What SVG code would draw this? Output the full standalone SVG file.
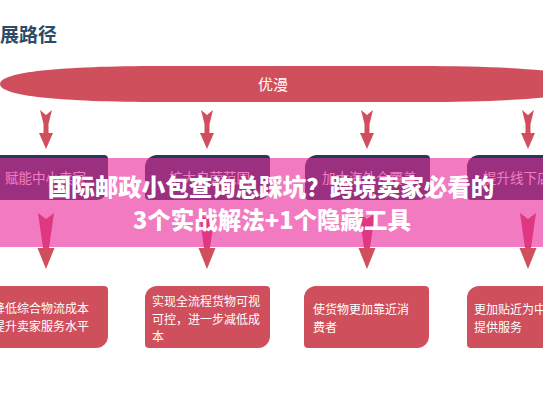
<svg xmlns="http://www.w3.org/2000/svg" xmlns:xlink="http://www.w3.org/1999/xlink" width="543" height="408" viewBox="0 0 543 408">
<style>
.cjk{font-family:"Noto Sans CJK SC","Noto Sans",sans-serif}
.head{font-size:19px;font-weight:700;fill:#2d4a66}
.band{fill:#d04f5c}
.bandtxt{font-size:15px;fill:#ffffff}
.arrow{fill:#d04f5c}
.mbox{fill:#1d3d58}
.mtxt{font-size:13.5px;fill:#ffffff}
.bbox{fill:#d04f5c}
.btxt{font-size:12px;fill:#ffffff}
.overlay{fill:#ea2899;fill-opacity:0.62}
.title{font-size:23.5px;font-weight:900;fill:#ffffff}
</style>
<defs>
<path id="mshape" d="M12,0 H121 A4,4 0 0 1 125,4 V33 A12,12 0 0 1 113,45 H4 A4,4 0 0 1 0,41 V12 A12,12 0 0 1 12,0 Z"/>
<path id="bshape" d="M12,0 H121 A4,4 0 0 1 125,4 V50 A12,12 0 0 1 113,62 H4 A4,4 0 0 1 0,58 V12 A12,12 0 0 1 12,0 Z"/>
<path id="arrowUp" d="M-6,0 L0,5 L6,0 L2.5,14 V23 H7 L0,39 L-7,23 H-2.5 V14 Z"/>
<path id="arrowLow" d="M-8,0 L0,6 L8,0 L3,35 H8.5 L0,56 L-8.5,35 H-3 Z"/>
</defs>
<rect width="543" height="408" fill="#ffffff"/>
<text class="cjk head" x="0" y="42">展路径</text>
<g id="band">
<path class="band" d="M0,84 C0,72 60,66 160,66 H420 C520,66 590,72 590,84 C590,96 520,102 420,102 H160 C60,102 0,96 0,84 Z"/>
<text class="cjk bandtxt" x="273" y="90" text-anchor="middle">优漫</text>
</g>
<g id="connectors">
<use xlink:href="#arrowUp" class="arrow" x="46" y="110"/>
<use xlink:href="#arrowUp" class="arrow" x="207" y="110"/>
<use xlink:href="#arrowUp" class="arrow" x="367" y="110"/>
<use xlink:href="#arrowUp" class="arrow" x="528" y="110"/>
<use xlink:href="#arrowLow" class="arrow" x="46" y="213"/>
<use xlink:href="#arrowLow" class="arrow" x="207" y="213"/>
<use xlink:href="#arrowLow" class="arrow" x="367" y="213"/>
<use xlink:href="#arrowLow" class="arrow" x="528" y="213"/>
</g>
<g id="m1"><use xlink:href="#mshape" class="mbox" x="-17" y="155"/><text class="cjk mtxt" x="5" y="183">赋能中小卖家</text></g>
<g id="m2"><use xlink:href="#mshape" class="mbox" x="145" y="155"/><text class="cjk mtxt" x="169" y="183">扩大自营范围</text></g>
<g id="m3"><use xlink:href="#mshape" class="mbox" x="305" y="155"/><text class="cjk mtxt" x="322" y="183">加大海外仓覆盖</text></g>
<g id="m4"><use xlink:href="#mshape" class="mbox" x="467" y="155"/><text class="cjk mtxt" x="483" y="183">提升线下店</text></g>
<g id="b1"><use xlink:href="#bshape" class="bbox" x="-17" y="286"/><text class="cjk btxt" x="-7" y="313">降低综合物流成本</text><text class="cjk btxt" x="-7" y="331">提升卖家服务水平</text></g>
<g id="b2"><use xlink:href="#bshape" class="bbox" x="145" y="286"/><text class="cjk btxt" x="152" y="306">实现全流程货物可视</text><text class="cjk btxt" x="152" y="323.5">可控，进一步减低成</text><text class="cjk btxt" x="152" y="341">本</text></g>
<g id="b3"><use xlink:href="#bshape" class="bbox" x="304" y="286"/><text class="cjk btxt" x="313" y="314">使货物更加靠近消</text><text class="cjk btxt" x="313" y="332">费者</text></g>
<g id="b4"><use xlink:href="#bshape" class="bbox" x="467" y="286"/><text class="cjk btxt" x="474" y="314">更加贴近为中</text><text class="cjk btxt" x="474" y="332">提供服务</text></g>
<rect class="overlay" x="0" y="158" width="543" height="89"/>
<text class="cjk title" x="271" y="196" text-anchor="middle">国际邮政小包查询总踩坑？跨境卖家必看的</text>
<text class="cjk title" x="272" y="229" text-anchor="middle">3个实战解法+1个隐藏工具</text>
</svg>
